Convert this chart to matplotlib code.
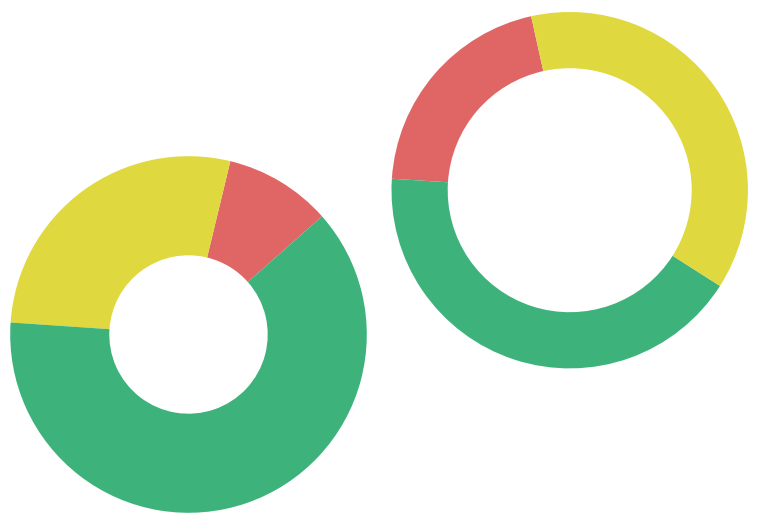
import matplotlib
matplotlib.use("Agg")
import matplotlib.pyplot as plt

# Data
categories_left = ["Red", "Yellow", "Green"]
values_left = [9.7, 27.7, 62.6]
categories_right = ["Red", "Green", "Yellow"]
values_right = [20.5, 42.0, 37.5]

color_map = {"Red": "#e06666", "Yellow": "#dfd83e", "Green": "#3db37b"}

W, H = 763, 522
fig = plt.figure(figsize=(W / 100, H / 100), dpi=100)
fig.patch.set_facecolor("white")


def donut(cx, cy, r_out, r_in, cats, vals, start):
    ax = fig.add_axes([(cx - r_out) / W, (H - cy - r_out) / H,
                       2 * r_out / W, 2 * r_out / H])
    ax.pie(vals, colors=[color_map[c] for c in cats], startangle=start,
           counterclock=True, radius=1.0,
           wedgeprops=dict(width=1 - r_in / r_out, linewidth=0))
    ax.set_xlim(-1, 1)
    ax.set_ylim(-1, 1)
    ax.set_aspect("equal")
    ax.axis("off")


donut(188.5, 334.5, 178.3, 79.2, categories_left, values_left, 41.5)
donut(569.7, 190.2, 178.2, 122.0, categories_right, values_right, 102.5)

fig.savefig("out.png", dpi=100, facecolor="white")
